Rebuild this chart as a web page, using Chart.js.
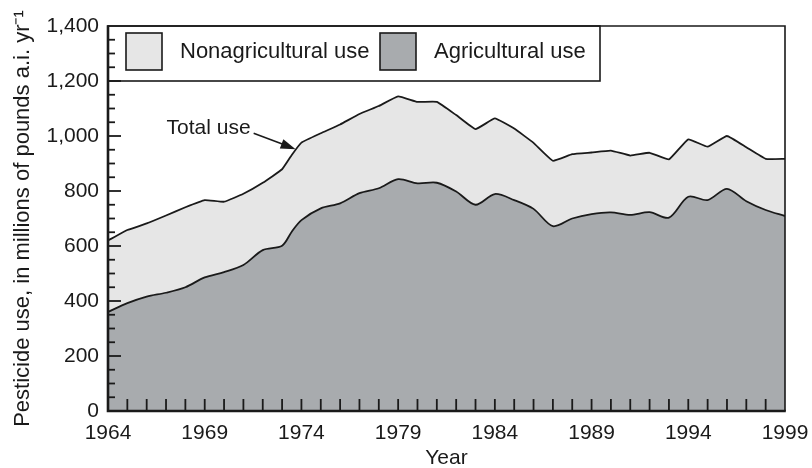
<!DOCTYPE html>
<html><head><meta charset="utf-8">
<script src="https://cdn.jsdelivr.net/npm/chart.js@4/dist/chart.umd.min.js"></script>
<style>html,body{margin:0;padding:0;background:#fff}#wrap{width:812px;height:468px}</style>
</head><body><div id="wrap"><canvas id="c" width="812" height="468"></canvas></div>
<script>
// ---- data ----
const years = [1964,1965,1966,1967,1968,1969,1970,1971,1972,1973,1973.5,1974,1975,1976,1977,1978,1979,1980,1981,1982,1983,1984,1985,1986,1987,1988,1989,1990,1991,1992,1993,1994,1995,1996,1997,1998,1999];
const agriculturalUse = [360,392,416,430,450,486,505,531,585,601,652,694,737,755,792,810,843,828,830,798,750,789,767,735,672,700,716,722,713,723,703,779,767,808,763,731,709];
const totalUse = [620,658,682,711,741,767,761,790,830,879,931,976,1010,1042,1080,1109,1144,1124,1124,1076,1025,1064,1027,975,910,934,940,947,929,939,915,988,961,1000,959,917,917];
const xTickLabels = [1964,1969,1974,1979,1984,1989,1994,1999];
const yTickLabels = [0,200,400,600,800,1000,1200,1400];
const seriesNames = ['Agricultural use','Nonagricultural use'];
const annotationText = 'Total use';
const annotationPoint = {x:1973.7, y:952};

const FONT = "'Liberation Sans', Arial, Helvetica, sans-serif";
const AG_COLOR = '#a8abae';
const NONAG_COLOR = '#e6e6e6';
const INK = '#1a1a1a';

const extras = {
  id: 'extras',
  afterDatasetsDraw(chart) {
    const ctx = chart.ctx;
    const a = chart.chartArea;
    const xs = chart.scales.x, ys = chart.scales.y;
    ctx.save();
    // legend box
    const lx0 = a.left, lx1 = a.left + 492, ly0 = a.top, ly1 = ys.getPixelForValue(1200);
    ctx.fillStyle = '#fff';
    ctx.fillRect(lx0, ly0, lx1 - lx0, ly1 - ly0);
    ctx.strokeStyle = INK; ctx.lineWidth = 1.6;
    ctx.strokeRect(lx0, ly0, lx1 - lx0, ly1 - ly0);
    const sw = 36, sh = 37, sy = ly0 + 7;
    const items = [
      {x: lx0 + 18, color: NONAG_COLOR, label: seriesNames[1]},
      {x: lx0 + 272, color: AG_COLOR, label: seriesNames[0]}
    ];
    ctx.font = '22px ' + FONT;
    ctx.textBaseline = 'middle';
    items.forEach(it => {
      ctx.fillStyle = it.color;
      ctx.fillRect(it.x, sy, sw, sh);
      ctx.lineWidth = 1.6; ctx.strokeStyle = INK;
      ctx.strokeRect(it.x, sy, sw, sh);
      ctx.fillStyle = INK;
      ctx.fillText(it.label, it.x + sw + 18, sy + sh / 2);
    });
    // annotation
    const tx = xs.getPixelForValue(annotationPoint.x), ty = ys.getPixelForValue(annotationPoint.y);
    ctx.font = '21px ' + FONT;
    ctx.textAlign = 'right';
    ctx.textBaseline = 'middle';
    ctx.fillStyle = INK;
    ctx.fillText(annotationText, tx - 45, ty - 21);
    const sx = tx - 42, sy2 = ty - 16;
    ctx.beginPath(); ctx.moveTo(sx, sy2); ctx.lineTo(tx - 10, ty - 4);
    ctx.lineWidth = 1.6; ctx.stroke();
    const ang = Math.atan2(ty - sy2, tx - sx);
    ctx.beginPath();
    ctx.moveTo(tx, ty);
    ctx.lineTo(tx - 15 * Math.cos(ang) + 5 * Math.sin(ang), ty - 15 * Math.sin(ang) - 5 * Math.cos(ang));
    ctx.lineTo(tx - 15 * Math.cos(ang) - 5 * Math.sin(ang), ty - 15 * Math.sin(ang) + 5 * Math.cos(ang));
    ctx.closePath(); ctx.fill();
    // frame
    ctx.strokeStyle = INK;
    ctx.lineWidth = 1.6;
    ctx.beginPath(); ctx.moveTo(a.left, a.top); ctx.lineTo(a.right, a.top); ctx.lineTo(a.right, a.bottom); ctx.stroke();
    ctx.lineWidth = 2.6;
    ctx.beginPath(); ctx.moveTo(a.left, a.top - 0.8); ctx.lineTo(a.left, a.bottom); ctx.lineTo(a.right + 0.8, a.bottom); ctx.stroke();
    // inward ticks
    ctx.lineWidth = 1.8;
    for (let v = 50; v < 1400; v += 50) {
      const py = ys.getPixelForValue(v);
      const len = (v % 200 === 0) ? 13 : 7;
      ctx.beginPath(); ctx.moveTo(a.left, py); ctx.lineTo(a.left + len, py); ctx.stroke();
    }
    for (let yr = 1965; yr < 1999; yr++) {
      const px = xs.getPixelForValue(yr);
      ctx.beginPath(); ctx.moveTo(px, a.bottom); ctx.lineTo(px, a.bottom - 12); ctx.stroke();
    }
    ctx.restore();
  }
};

new Chart(document.getElementById('c'), {
  type: 'line',
  data: {
    datasets: [
      {
        label: seriesNames[0],
        data: years.map((y, i) => ({x: y, y: agriculturalUse[i]})),
        fill: 'origin',
        backgroundColor: AG_COLOR,
        borderColor: INK,
        borderWidth: 1.8,
        pointRadius: 0,
        tension: 0.3
      },
      {
        label: 'Total use',
        data: years.map((y, i) => ({x: y, y: totalUse[i]})),
        fill: '-1',
        backgroundColor: NONAG_COLOR,
        borderColor: INK,
        borderWidth: 1.8,
        pointRadius: 0,
        tension: 0.1
      }
    ]
  },
  options: {
    responsive: false,
    animation: false,
    events: [],
    layout: {padding: {left: 0, right: 27, top: 26, bottom: 0}},
    plugins: {legend: {display: false}, tooltip: {enabled: false}},
    scales: {
      x: {
        type: 'linear', min: 1964, max: 1999,
        afterBuildTicks(s) { s.ticks = xTickLabels.map(v => ({value: v})); },
        afterFit(s) { s.height = 57; s.paddingLeft = 0; s.paddingRight = 0; },
        grid: {display: false, drawTicks: false},
        border: {display: false},
        ticks: {color: INK, padding: 10, maxRotation: 0, autoSkip: false, font: {family: FONT, size: 21}, callback: v => String(v)},
        title: {display: true, text: 'Year', color: INK, font: {family: FONT, size: 21, lineHeight: 0.9}, padding: {top: 0, bottom: 0}}
      },
      y: {
        min: 0, max: 1400,
        afterBuildTicks(s) { s.ticks = yTickLabels.map(v => ({value: v})); },
        afterFit(s) { s.width = 108; s.paddingTop = 0; s.paddingBottom = 0; },
        grid: {display: false, drawTicks: false},
        border: {display: false},
        ticks: {color: INK, padding: 9, font: {family: FONT, size: 21}, callback: v => v.toLocaleString('en-US')},
        title: {display: true, text: 'Pesticide use, in millions of pounds a.i. yr\u207B\u00B9', color: INK, font: {family: FONT, size: 22, lineHeight: 1}, padding: {top: 12, bottom: 0}}
      }
    }
  },
  plugins: [extras]
});
</script>
</body></html>
